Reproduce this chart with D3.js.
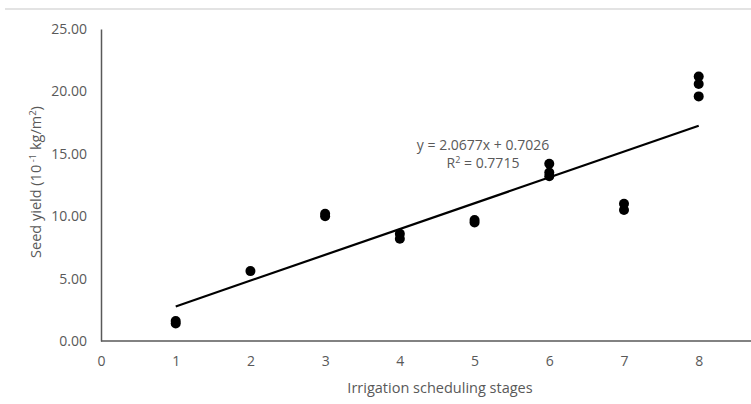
<!DOCTYPE html>
<html lang="en">
<head>
<meta charset="UTF-8">
<title>Seed yield vs irrigation scheduling stages</title>
<style>
  body { margin: 0; background: #fff; overflow: hidden; }
  svg text { font-family: "Open Sans", "Liberation Sans", sans-serif; fill: #595959; }
</style>
</head>
<body>
<svg id="chart" width="751" height="404"></svg>
<script src="https://d3js.org/d3.v7.min.js"></script>
<script>
// data
const stages = [1, 1, 2, 3, 3, 4, 4, 5, 5, 6, 6, 6, 7, 7, 8, 8, 8];
const yields = [1.4, 1.6, 5.6, 10.0, 10.2, 8.2, 8.6, 9.5, 9.7, 13.2, 13.5, 14.2, 10.5, 11.0, 19.6, 20.6, 21.2];
const xTicks = [0, 1, 2, 3, 4, 5, 6, 7, 8];
const yTicks = [0, 5, 10, 15, 20, 25];
const slope = 2.0677, intercept = 0.7026, r2 = 0.7715;

const svg = d3.select("#chart");

const x = d3.scaleLinear().domain([0, 8.7]).range([101, 751]);
const y = d3.scaleLinear().domain([0, 25]).range([341, 29]);

// faint top border
svg.append("line")
  .attr("x1", 5).attr("x2", 751).attr("y1", 9).attr("y2", 9)
  .attr("stroke", "#e3e3e3").attr("stroke-width", 2);

// axes
const yAxis = svg.append("g")
  .attr("transform", `translate(${x(0)},0)`)
  .call(d3.axisLeft(y).tickValues(yTicks).tickSize(0).tickPadding(14).tickFormat(d3.format(".2f")));
const xAxis = svg.append("g")
  .attr("transform", `translate(0,${y(0)})`)
  .call(d3.axisBottom(x).tickValues(xTicks).tickSize(0).tickPadding(15).tickFormat(d3.format("d")));

[xAxis, yAxis].forEach(a => {
  a.select(".domain").attr("stroke", "#595959").attr("stroke-width", 1.5);
  a.selectAll("text").attr("font-size", 14).attr("fill", "#595959");
});
xAxis.select(".domain").attr("d", `M${x(0)},0H751`);

// axis titles
svg.append("text")
  .attr("x", 440).attr("y", 393)
  .attr("text-anchor", "middle").attr("font-size", 14.5)
  .text("Irrigation scheduling stages");

const yt = svg.append("text")
  .attr("transform", "translate(41,182) rotate(-90)")
  .attr("text-anchor", "middle").attr("font-size", 14.5);
yt.append("tspan").text("Seed yield (10");
yt.append("tspan").attr("font-size", 9.5).attr("dy", -5).text(" -1");
yt.append("tspan").attr("dy", 5).text(" kg/m");
yt.append("tspan").attr("font-size", 9.5).attr("dy", -5).text("2");
yt.append("tspan").attr("dy", 5).text(")");

// trend line
const x0 = 1, x1 = 8;
svg.append("line")
  .attr("x1", x(x0)).attr("y1", y(slope * x0 + intercept))
  .attr("x2", x(x1)).attr("y2", y(slope * x1 + intercept))
  .attr("stroke", "#000").attr("stroke-width", 2.2);

// points
svg.append("g").selectAll("circle")
  .data(stages.map((s, i) => ({ s, v: yields[i] })))
  .join("circle")
  .attr("cx", d => x(d.s)).attr("cy", d => y(d.v))
  .attr("r", 5).attr("fill", "#000");

// equation label
svg.append("text")
  .attr("x", 483).attr("y", 150)
  .attr("text-anchor", "middle").attr("font-size", 14)
  .attr("fill", "#404040")
  .text(`y = ${slope}x + ${intercept}`);
const rt = svg.append("text")
  .attr("x", 483).attr("y", 168)
  .attr("text-anchor", "middle").attr("font-size", 14)
  .attr("fill", "#404040");
rt.append("tspan").text("R");
rt.append("tspan").attr("font-size", 9).attr("dy", -5).text("2");
rt.append("tspan").attr("dy", 5).text(` = ${r2}`);
</script>
</body>
</html>
